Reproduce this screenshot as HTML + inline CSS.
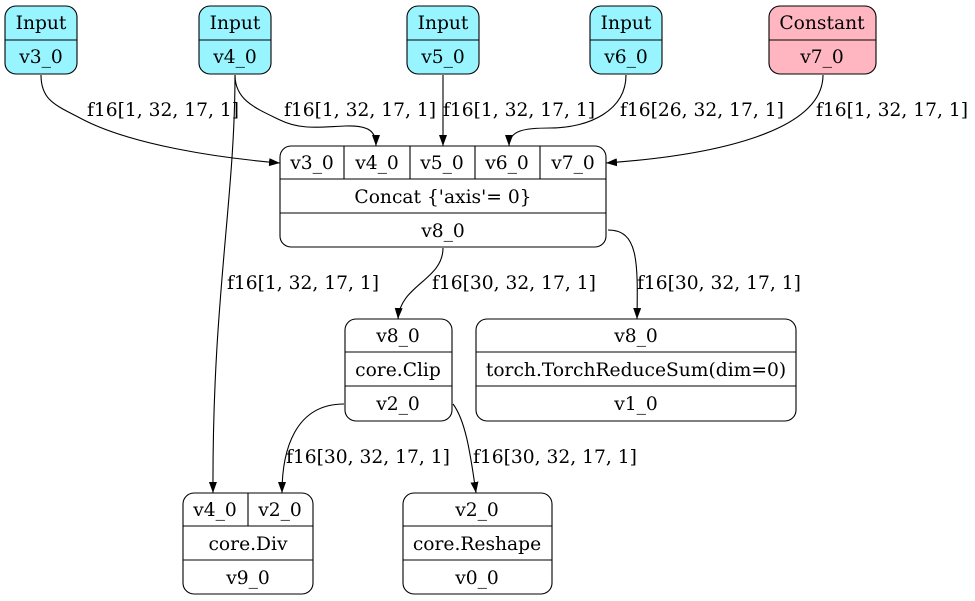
<!DOCTYPE html>
<html><head><meta charset="utf-8"><style>
html,body{margin:0;padding:0;background:#fff;}
svg{display:block;}
text{font-family:"DejaVu Serif",serif;font-size:18.67px;fill:#000;}
</style></head><body>
<svg width="975" height="601" viewBox="0 0 975 601" xmlns="http://www.w3.org/2000/svg">
<defs><marker id="a" markerWidth="12" markerHeight="10" refX="11" refY="5" orient="auto" markerUnits="userSpaceOnUse"><path d="M0,1 L11,5 L0,9 z" fill="#000"/></marker></defs>
<g fill="none" stroke="#000" stroke-width="1.1">
<rect x="5" y="6" width="72" height="68" rx="11" fill="#98f5ff"/><line x1="5" y1="40" x2="77" y2="40"/>
<rect x="199" y="6" width="72" height="68" rx="11" fill="#98f5ff"/><line x1="199" y1="40" x2="271" y2="40"/>
<rect x="407" y="6" width="72" height="68" rx="11" fill="#98f5ff"/><line x1="407" y1="40" x2="479" y2="40"/>
<rect x="590" y="6" width="72" height="68" rx="11" fill="#98f5ff"/><line x1="590" y1="40" x2="662" y2="40"/>
<rect x="769" y="6" width="107" height="68" rx="11" fill="#ffb6c1"/><line x1="769" y1="40" x2="876" y2="40"/>
<rect x="280" y="146" width="326" height="101" rx="11" fill="#fff"/>
<line x1="280" y1="179" x2="606" y2="179"/><line x1="280" y1="213" x2="606" y2="213"/>
<line x1="344" y1="146" x2="344" y2="179"/><line x1="410" y1="146" x2="410" y2="179"/><line x1="475" y1="146" x2="475" y2="179"/><line x1="540" y1="146" x2="540" y2="179"/>
<rect x="345" y="319" width="107" height="102" rx="11" fill="#fff"/>
<line x1="345" y1="352" x2="452" y2="352"/><line x1="345" y1="386" x2="452" y2="386"/>
<rect x="476" y="319" width="320" height="102" rx="11" fill="#fff"/>
<line x1="476" y1="352" x2="796" y2="352"/><line x1="476" y1="386" x2="796" y2="386"/>
<rect x="183" y="493" width="130" height="101" rx="11" fill="#fff"/>
<line x1="183" y1="526" x2="313" y2="526"/><line x1="183" y1="560" x2="313" y2="560"/><line x1="248" y1="493" x2="248" y2="526"/>
<rect x="403" y="493" width="149" height="101" rx="11" fill="#fff"/>
<line x1="403" y1="526" x2="552" y2="526"/><line x1="403" y1="560" x2="552" y2="560"/>
<path d="M41,75 C41,100 55,105 80,118 C130,145 220,158 280,163" marker-end="url(#a)"/>
<path d="M235,75 C235,100 255,108 280,120 C300,130 320,127 345,126 C370,125 376,132 376,146" marker-end="url(#a)"/>
<path d="M235,75 C235,200 212,300 213,493" marker-end="url(#a)"/>
<path d="M443,75 L443,146" marker-end="url(#a)"/>
<path d="M626,75 C626,110 590,128 550,128 C525,128 509,130 509,146" marker-end="url(#a)"/>
<path d="M823,75 C823,130 720,155 606,163" marker-end="url(#a)"/>
<path d="M443,248 C443,280 400,285 398,319" marker-end="url(#a)"/>
<path d="M608,230 C638,230 638,260 637,319" marker-end="url(#a)"/>
<path d="M344,404 C295,404 282,450 282,493" marker-end="url(#a)"/>
<path d="M453,404 C465,420 470,450 476,493" marker-end="url(#a)"/>
</g>
<g text-anchor="middle">
<text x="41" y="29">Input</text><text x="41" y="63">v3_0</text>
<text x="235" y="29">Input</text><text x="235" y="63">v4_0</text>
<text x="443" y="29">Input</text><text x="443" y="63">v5_0</text>
<text x="626" y="29">Input</text><text x="626" y="63">v6_0</text>
<text x="822" y="29">Constant</text><text x="822" y="63">v7_0</text>
<text x="312" y="169">v3_0</text><text x="377" y="169">v4_0</text><text x="442" y="169">v5_0</text><text x="507" y="169">v6_0</text><text x="573" y="169">v7_0</text>
<text x="443" y="203">Concat {'axis'= 0}</text>
<text x="443" y="237">v8_0</text>
<text x="398" y="342">v8_0</text><text x="398" y="376">core.Clip</text><text x="398" y="410">v2_0</text>
<text x="636" y="342">v8_0</text><text x="636" y="376">torch.TorchReduceSum(dim=0)</text><text x="636" y="410">v1_0</text>
<text x="215" y="516">v4_0</text><text x="280" y="516">v2_0</text><text x="248" y="550">core.Div</text><text x="248" y="584">v9_0</text>
<text x="477" y="516">v2_0</text><text x="477" y="550">core.Reshape</text><text x="477" y="584">v0_0</text>
</g>
<g>
<text x="87" y="116">f16[1, 32, 17, 1]</text>
<text x="284" y="116">f16[1, 32, 17, 1]</text>
<text x="443" y="116">f16[1, 32, 17, 1]</text>
<text x="620" y="116">f16[26, 32, 17, 1]</text>
<text x="816" y="116">f16[1, 32, 17, 1]</text>
<text x="227" y="289">f16[1, 32, 17, 1]</text>
<text x="432" y="289">f16[30, 32, 17, 1]</text>
<text x="637" y="289">f16[30, 32, 17, 1]</text>
<text x="286" y="463">f16[30, 32, 17, 1]</text>
<text x="473" y="463">f16[30, 32, 17, 1]</text>
</g>
</svg>
</body></html>
